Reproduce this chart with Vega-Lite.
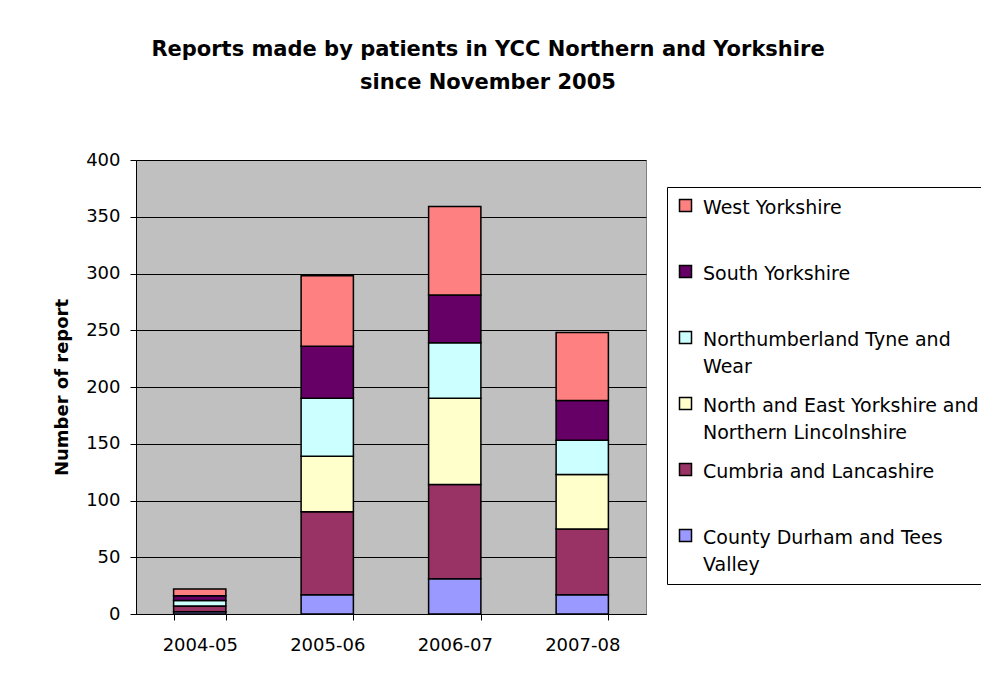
{
  "$schema": "https://vega.github.io/schema/vega-lite/v6.json",
  "autosize": "none",
  "width": 510,
  "height": 454,
  "padding": {"left": 136, "top": 160, "right": 335, "bottom": 68},
  "background": "white",
  "title": {
    "text": ["Reports made by patients in YCC Northern and Yorkshire", "since November 2005"],
    "font": "DejaVu Sans",
    "fontSize": 21,
    "fontWeight": "bold",
    "lineHeight": 33,
    "anchor": "middle",
    "dx": 97,
    "offset": 58,
    "color": "black"
  },
  "data": {
    "values": [
      {"year": "2004-05", "region": "County Durham and Tees Valley", "reports": 2},
      {"year": "2004-05", "region": "Cumbria and Lancashire", "reports": 5},
      {"year": "2004-05", "region": "North and East Yorkshire and Northern Lincolnshire", "reports": 0},
      {"year": "2004-05", "region": "Northumberland Tyne and Wear", "reports": 5},
      {"year": "2004-05", "region": "South Yorkshire", "reports": 4},
      {"year": "2004-05", "region": "West Yorkshire", "reports": 6},
      {"year": "2005-06", "region": "County Durham and Tees Valley", "reports": 17},
      {"year": "2005-06", "region": "Cumbria and Lancashire", "reports": 73},
      {"year": "2005-06", "region": "North and East Yorkshire and Northern Lincolnshire", "reports": 49},
      {"year": "2005-06", "region": "Northumberland Tyne and Wear", "reports": 51},
      {"year": "2005-06", "region": "South Yorkshire", "reports": 46},
      {"year": "2005-06", "region": "West Yorkshire", "reports": 62},
      {"year": "2006-07", "region": "County Durham and Tees Valley", "reports": 31},
      {"year": "2006-07", "region": "Cumbria and Lancashire", "reports": 83},
      {"year": "2006-07", "region": "North and East Yorkshire and Northern Lincolnshire", "reports": 76},
      {"year": "2006-07", "region": "Northumberland Tyne and Wear", "reports": 49},
      {"year": "2006-07", "region": "South Yorkshire", "reports": 42},
      {"year": "2006-07", "region": "West Yorkshire", "reports": 78},
      {"year": "2007-08", "region": "County Durham and Tees Valley", "reports": 17},
      {"year": "2007-08", "region": "Cumbria and Lancashire", "reports": 58},
      {"year": "2007-08", "region": "North and East Yorkshire and Northern Lincolnshire", "reports": 48},
      {"year": "2007-08", "region": "Northumberland Tyne and Wear", "reports": 30},
      {"year": "2007-08", "region": "South Yorkshire", "reports": 35},
      {"year": "2007-08", "region": "West Yorkshire", "reports": 60}
    ]
  },
  "transform": [
    {"calculate": "indexof(['West Yorkshire','South Yorkshire','Northumberland Tyne and Wear','North and East Yorkshire and Northern Lincolnshire','Cumbria and Lancashire','County Durham and Tees Valley'], datum.region)", "as": "idx"}
  ],
  "mark": {"type": "bar", "stroke": "black", "strokeWidth": 1.5},
  "encoding": {
    "x": {
      "field": "year",
      "type": "nominal",
      "scale": {"paddingInner": 0.59, "paddingOuter": 0.295},
      "axis": {
        "title": null,
        "labelAngle": 0,
        "labelFont": "DejaVu Sans",
        "labelFontSize": 18,
        "labelColor": "black",
        "labelPadding": 16,
        "tickBand": "extent",
        "tickSize": 6,
        "tickColor": "black",
        "domainColor": "black",
        "grid": false
      }
    },
    "y": {
      "field": "reports",
      "type": "quantitative",
      "stack": "zero",
      "scale": {"domain": [0, 400], "nice": false},
      "axis": {
        "title": "Number of report",
        "titleFont": "DejaVu Sans",
        "titleFontSize": 18,
        "titleFontWeight": "bold",
        "titleColor": "black",
        "titlePadding": 14,
        "values": [0, 50, 100, 150, 200, 250, 300, 350, 400],
        "labelFont": "DejaVu Sans",
        "labelFontSize": 18,
        "labelColor": "black",
        "labelPadding": 10,
        "tickSize": 6,
        "tickColor": "black",
        "domainColor": "black",
        "grid": true,
        "gridColor": "black",
        "gridWidth": 1
      }
    },
    "color": {
      "field": "region",
      "type": "nominal",
      "scale": {
        "domain": ["West Yorkshire", "South Yorkshire", "Northumberland Tyne and Wear", "North and East Yorkshire and Northern Lincolnshire", "Cumbria and Lancashire", "County Durham and Tees Valley"],
        "range": ["#FF8080", "#660066", "#CCFFFF", "#FFFFCC", "#993366", "#9999FF"]
      },
      "legend": {
        "title": null,
        "orient": "none",
        "legendX": 531,
        "legendY": 27,
        "direction": "vertical",
        "fillColor": "white",
        "strokeColor": "black",
        "padding": 9,
        "symbolType": "square",
        "symbolSize": 144,
        "symbolStrokeColor": "black",
        "symbolStrokeWidth": 1.5,
        "symbolOpacity": 1,
        "labelFont": "DejaVu Sans",
        "labelFontSize": 19,
        "labelColor": "black",
        "labelLimit": 400,
        "labelOffset": 8,
        "labelBaseline": "top",
        "rowPadding": 17,
        "labelExpr": "datum.label == 'Northumberland Tyne and Wear' ? ['Northumberland Tyne and', 'Wear'] : datum.label == 'North and East Yorkshire and Northern Lincolnshire' ? ['North and East Yorkshire and', 'Northern Lincolnshire'] : datum.label == 'County Durham and Tees Valley' ? ['County Durham and Tees', 'Valley'] : [datum.label, ' ']",
        "encode": {"labels": {"update": {"lineHeight": {"value": 27}, "dy": {"value": -7}}}}
      }
    },
    "order": {"field": "idx", "type": "quantitative", "sort": "descending"}
  },
  "config": {
    "view": {"fill": "#C0C0C0", "stroke": "#808080", "strokeWidth": 1}
  }
}
